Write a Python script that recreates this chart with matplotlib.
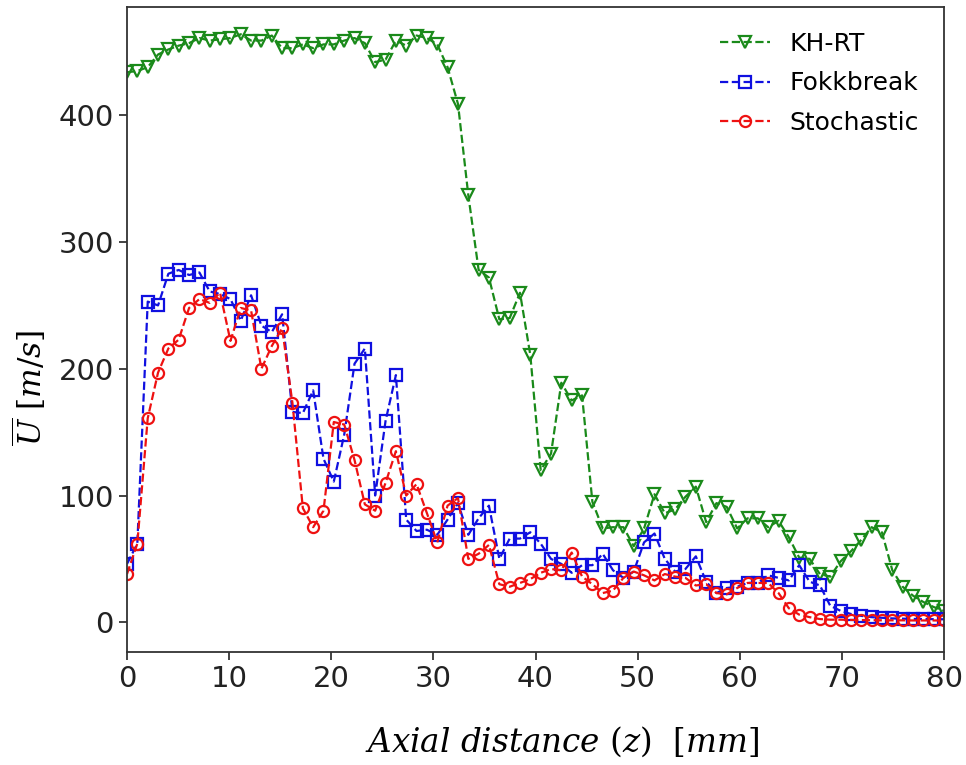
import matplotlib
matplotlib.use("Agg")
import matplotlib.pyplot as plt

plt.rcParams['font.family'] = ['DejaVu Sans']
plt.rcParams['mathtext.fontset'] = 'dejavuserif'

# Axial positions [mm] (80 samples across 0-80 mm)
z_mm = [0.00, 1.01, 2.03, 3.04, 4.05, 5.06, 6.08, 7.09, 8.10, 9.11,
        10.13, 11.14, 12.15, 13.16, 14.18, 15.19, 16.20, 17.22, 18.23, 19.24,
        20.25, 21.27, 22.28, 23.29, 24.30, 25.32, 26.33, 27.34, 28.35, 29.37,
        30.38, 31.39, 32.41, 33.42, 34.43, 35.44, 36.46, 37.47, 38.48, 39.49,
        40.51, 41.52, 42.53, 43.54, 44.56, 45.57, 46.58, 47.59, 48.61, 49.62,
        50.63, 51.65, 52.66, 53.67, 54.68, 55.70, 56.71, 57.72, 58.73, 59.75,
        60.76, 61.77, 62.78, 63.80, 64.81, 65.82, 66.84, 67.85, 68.86, 69.87,
        70.89, 71.90, 72.91, 73.92, 74.94, 75.95, 76.96, 77.97, 78.99, 80.00]

khrt = [434, 435, 438, 448, 452, 455, 457, 461, 459, 460,
        461, 464, 459, 459, 463, 453, 453, 456, 453, 456,
        456, 459, 461, 457, 442, 444, 459, 455, 463, 461,
        456, 438, 409, 337, 278, 272, 239, 240, 260, 211,
        120, 133, 189, 175, 179, 95, 74, 75, 75, 60,
        74, 101, 86, 89, 99, 107, 79, 94, 91, 74,
        82, 82, 75, 80, 67, 51, 50, 38, 36, 48,
        56, 65, 75, 71, 41, 28, 21, 16, 12, 9]

fokk = [46, 62, 253, 250, 275, 278, 274, 276, 261, 259,
        255, 238, 258, 234, 229, 243, 166, 165, 183, 129,
        111, 148, 204, 216, 100, 159, 195, 81, 72, 73,
        69, 81, 94, 69, 82, 92, 50, 66, 66, 71,
        62, 50, 46, 39, 45, 45, 54, 41, 35, 40,
        63, 70, 50, 40, 42, 52, 32, 23, 27, 28,
        31, 31, 37, 35, 33, 45, 32, 29, 13, 9,
        6.5, 5, 4, 3.5, 3, 2.8, 2.6, 2.5, 2.4, 2.3]

stoch = [38, 62, 161, 197, 216, 223, 248, 255, 252, 260,
         222, 248, 246, 200, 218, 232, 173, 90, 75, 88,
         158, 156, 128, 93, 88, 110, 135, 100, 109, 86,
         63, 92, 98, 50, 54, 61, 30, 28, 31, 34,
         39, 42, 41, 55, 36, 30, 23, 25, 35, 40,
         37, 33, 38, 36, 35, 29, 30, 23, 22, 27,
         31, 31, 31, 23, 11, 6, 4, 2.5, 2, 2,
         1.8, 1.7, 1.6, 1.5, 1.5, 1.5, 1.4, 1.4, 1.4, 1.4]

labels = ["KH-RT", "Fokkbreak", "Stochastic"]

fig = plt.figure(figsize=(9.66, 7.65), dpi=100)
ax = fig.add_axes([127/966, 1 - 652/765, (944 - 127)/966, (652 - 7)/765])

common = dict(linestyle='--', linewidth=1.6, markersize=8, markeredgewidth=1.6,
              markerfacecolor='none')
ax.plot(z_mm, khrt, color='#1a8a1a', marker='v', label=labels[0], **common)
ax.plot(z_mm, fokk, color='#1010e0', marker='s', label=labels[1], **common)
ax.plot(z_mm, stoch, color='#ee1111', marker='o', label=labels[2], **common)

ax.set_xlim(0, 80)
ax.set_ylim(-23.5, 485.5)
ax.set_xticks([0, 10, 20, 30, 40, 50, 60, 70, 80])
ax.set_yticks([0, 100, 200, 300, 400])
ax.tick_params(labelsize=21, length=6, width=1.2, colors='#222222')
for s in ax.spines.values():
    s.set_color('#333333')
    s.set_linewidth(1.3)

ax.set_xlabel(r'$Axial\ distance\ (z)\ \ [mm]$', fontsize=23.5)
ax.set_ylabel(r'$\overline{U}\ [m/s]$', fontsize=22.5)
ax.xaxis.set_label_coords(0.533, -0.113)
ax.yaxis.set_label_coords(-0.097, 0.41)

ax.legend(loc='upper right', frameon=False, fontsize=18, labelspacing=0.62,
          borderaxespad=0.6)

fig.savefig("out.png", dpi=100)
